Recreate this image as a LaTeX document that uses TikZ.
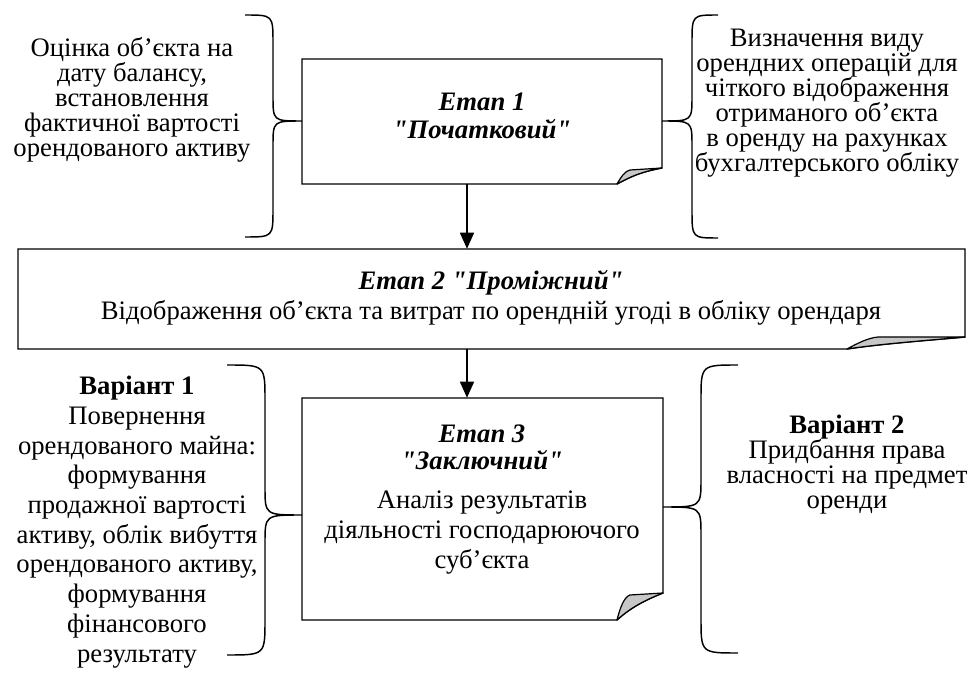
\documentclass[tikz,border=0pt]{standalone}
\usepackage{fontspec}
\setmainfont{Liberation Serif}[Ligatures=TeXOff]
\usetikzlibrary{arrows.meta}
\begin{document}
\begin{tikzpicture}[x=0.75pt,y=-0.75pt,
  outline/.style={draw=black, line width=1.1pt, fill=white, line join=miter},
  foldfill/.style={fill=black!22, draw=black, line width=0.9pt, line join=round},
  bracepath/.style={draw=black, line width=1.1pt},
  boxnode/.style={inner sep=0pt, draw=none},
  txt/.style={inner sep=0pt, align=center, font=\fontsize{20}{18.75}\selectfont},
  conn/.style={draw=black, line width=1.1pt, -{Triangle[width=10.5pt,length=12pt]}}
]
\useasboundingbox (0,0) rectangle (968,673);

% ---- Box 1
\draw[outline] (302,59) -- (662,59) -- (662,168) .. controls (640,172) and (630,177) .. (617,184) -- (302,184) -- cycle;
\draw[foldfill] (617,184) .. controls (621,177) and (625,171) .. (630,170) -- (662,168) .. controls (640,172) and (630,177) .. (617,184) -- cycle;
\node[boxnode, minimum width=270pt, minimum height=93.75pt] (b1) at (482,121.5) {};

% ---- Box 2
\draw[outline] (18,249) -- (965,249) -- (965,337) .. controls (920,341) and (880,344) .. (847,349) -- (18,349) -- cycle;
\draw[foldfill] (847,349) .. controls (858,343) and (868,338) .. (878,337) -- (965,337) .. controls (920,341) and (880,344) .. (847,349) -- cycle;
\node[boxnode, minimum width=710.25pt, minimum height=75pt] (b2) at (491.5,299) {};

% ---- Box 3
\draw[outline] (302,398) -- (663,398) -- (663,593) .. controls (645,600) and (630,608) .. (617,620) -- (302,620) -- cycle;
\draw[foldfill] (617,620) .. controls (620,608) and (624,597) .. (630,595) -- (663,593) .. controls (645,600) and (630,608) .. (617,620) -- cycle;
\node[boxnode, minimum width=270.75pt, minimum height=166.5pt] (b3) at (482.5,509) {};

% ---- connectors
\coordinate (ax) at (467,0);
\draw[conn] (b1.south -| ax) -- (b2.north -| ax);
\draw[conn] (b2.south -| ax) -- (b3.north -| ax);

% ---- braces
\draw[bracepath] (245,15) .. controls (273,15) .. (273,43) -- (273,96) .. controls (273,121) .. (302,121)
  .. controls (273,121) .. (273,146) -- (273,209) .. controls (273,237) .. (245,237);
\draw[bracepath] (718,15) .. controls (692,15) .. (692,43) -- (692,96) .. controls (692,121) .. (662,121)
  .. controls (692,121) .. (692,146) -- (692,210) .. controls (692,238) .. (718,238);
\draw[bracepath] (227,365) .. controls (265,365) .. (265,400) -- (265,487) .. controls (265,515) .. (302,515)
  .. controls (265,515) .. (265,543) -- (265,620) .. controls (265,655) .. (227,655);
\draw[bracepath] (738,365) .. controls (701,365) .. (701,400) -- (701,479) .. controls (701,507) .. (663,507)
  .. controls (701,507) .. (701,535) -- (701,618) .. controls (701,653) .. (738,653);

% ---- texts
\node[txt] (t1) at (132,100) {Оцінка об’єкта на\\дату балансу,\\встановлення\\фактичної вартості\\орендованого активу};
\node[txt] (t2) at (827,103) {Визначення виду\\орендних операцій для\\чіткого відображення\\отриманого об’єкта\\в оренду на рахунках\\бухгалтерського обліку};
\node[txt, font=\fontsize{20}{21}\selectfont\bfseries\itshape] (h1) at (482,116) {Етап 1\\"Початковий"};
\node[txt, font=\fontsize{20}{18}\selectfont\bfseries\itshape] (h2) at (491,283) {Етап 2 "Проміжний"};
\node[txt] (d2) at (491,313) {Відображення об’єкта та витрат по орендній угоді в обліку орендаря};
\node[txt, font=\fontsize{20}{20.25}\selectfont\bfseries\itshape] (h3) at (482,447) {Етап 3\\"Заключний"};
\node[txt, font=\fontsize{20}{22.5}\selectfont] (d3) at (482,533) {Аналіз результатів\\діяльності господарюючого\\суб’єкта};
\node[txt, font=\fontsize{20}{22.3}\selectfont] (t3) at (137,522) {\textbf{Варіант 1}\\Повернення\\орендованого майна:\\формування\\продажної вартості\\активу, облік вибуття\\орендованого активу,\\формування\\фінансового\\результату};
\node[txt] (t4) at (847,465) {\textbf{Варіант 2}\\Придбання права\\власності на предмет\\оренди};
\end{tikzpicture}
\end{document}
